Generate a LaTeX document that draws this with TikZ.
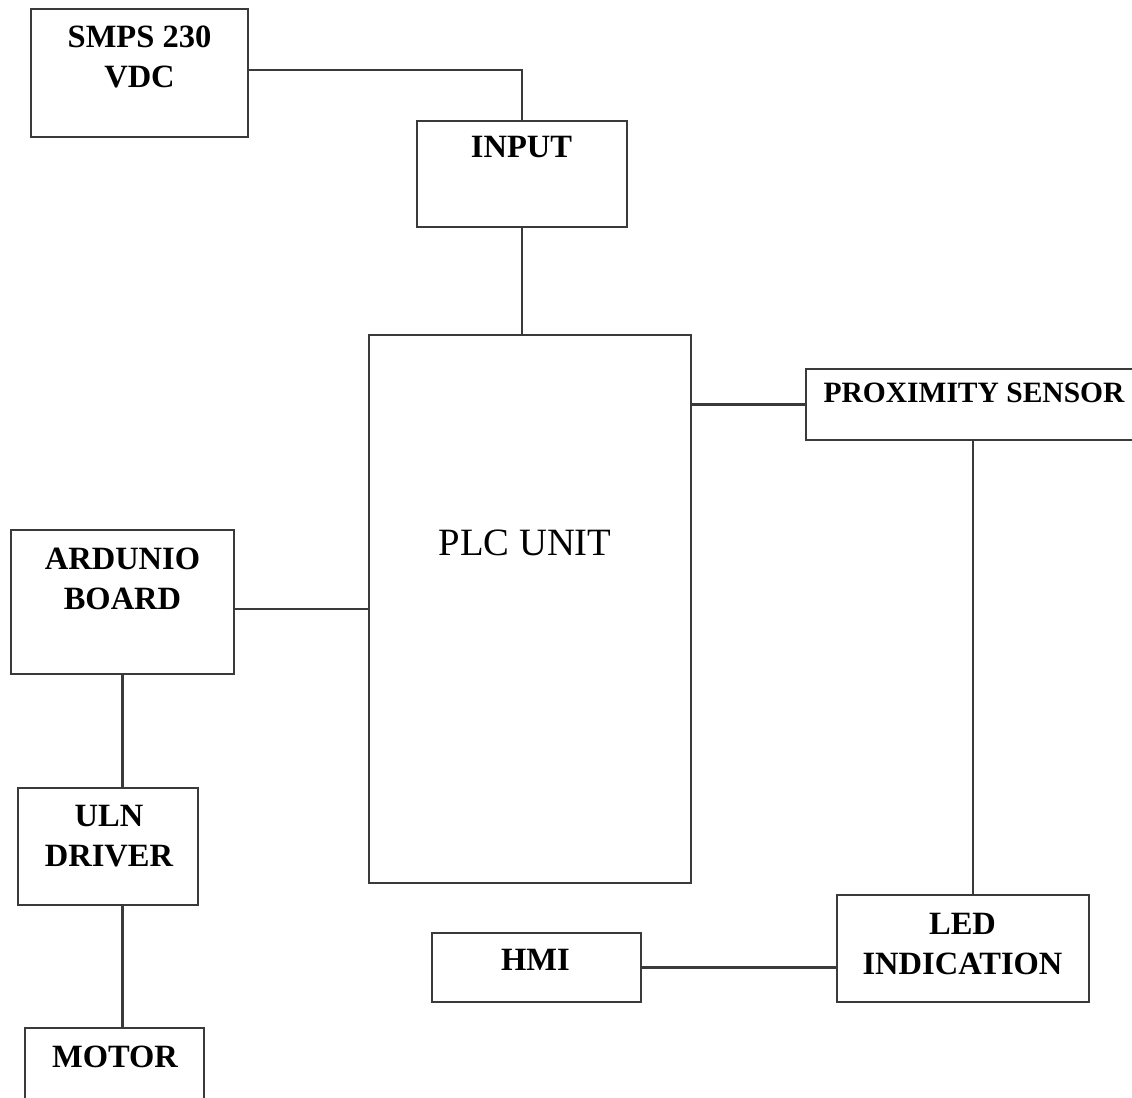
\documentclass[tikz,border=0pt]{standalone}
\usepackage{fontspec}
\setmainfont{Liberation Serif}
\usepackage{tikz}
\usetikzlibrary{positioning,calc}
\definecolor{boxline}{HTML}{3A3A3A}

\begin{document}
\begin{tikzpicture}[
  unit/.style={draw=boxline,line width=1.1pt,inner sep=0pt},
  tag/.style={font=\fontsize{18.5}{23}\selectfont\bfseries,
              align=center,inner sep=0pt},
  wire/.style={draw=boxline,line width=1.2pt},
  x=1cm,y=1cm
]
\clip (0,0) rectangle (22.64,-21.94);

% Power and input
\node[unit,minimum width=4.34cm,minimum height=2.56cm] (SMPS) at (2.79,-1.46) {};
\node[tag] (SMPSt) at (2.79,-1.135) {SMPS 230\\VDC};
\node[unit,minimum width=4.20cm,minimum height=2.12cm] (IN) at (10.44,-3.48) {};
\node[tag] (INt) at (10.43,-2.95) {INPUT};

% Controller
\node[unit,minimum width=6.44cm,minimum height=10.96cm] (PLC) at (10.60,-12.18) {};
\node[tag,font=\fontsize{22}{26}\selectfont] (PLCt) at (10.50,-10.85) {PLC UNIT};

% Right side
\node[unit,minimum width=6.68cm,minimum height=1.42cm] (PS) at (19.46,-8.09) {};
\node[tag,font=\fontsize{16.8}{20}\selectfont\bfseries] (PSt) at (19.48,-7.86) {PROXIMITY SENSOR};
\node[unit,minimum width=5.04cm,minimum height=2.14cm] (LED) at (19.26,-18.97) {};
\node[tag] (LEDt) at (19.25,-18.88) {LED\\INDICATION};
\node[unit,minimum width=4.18cm,minimum height=1.38cm] (HMI) at (10.73,-19.35) {};
\node[tag] (HMIt) at (10.71,-19.20) {HMI};

% Left side
\node[unit,minimum width=4.46cm,minimum height=2.88cm] (ARD) at (2.45,-12.04) {};
\node[tag] (ARDt) at (2.45,-11.58) {ARDUNIO\\BOARD};
\node[unit,minimum width=3.60cm,minimum height=2.34cm] (ULN) at (2.16,-16.93) {};
\node[tag] (ULNt) at (2.18,-16.72) {ULN\\DRIVER};
\node[unit,minimum width=3.58cm,minimum height=1.80cm] (MOT) at (2.29,-21.46) {};
\node[tag] (MOTt) at (2.30,-21.13) {MOTOR};

% Connections
\draw[wire] ($(SMPS.east)+(0,0.06)$) -| (IN.north);
\draw[wire] (IN.south) -- (IN.south |- PLC.north);
\draw[wire] (PS.west) -- (PS.west -| PLC.east);
\draw[wire] (PS.south) -- (PS.south |- LED.north);
\draw[wire] (HMI.east) -- (HMI.east -| LED.west);
\draw[wire] (PLC.west) -- (PLC.west -| ARD.east);
\draw[wire] (ARD.south) -- (ARD.south |- ULN.north);
\draw[wire] (ULN.south -| ARD.south) -- (MOT.north -| ARD.south);
\end{tikzpicture}
\end{document}
